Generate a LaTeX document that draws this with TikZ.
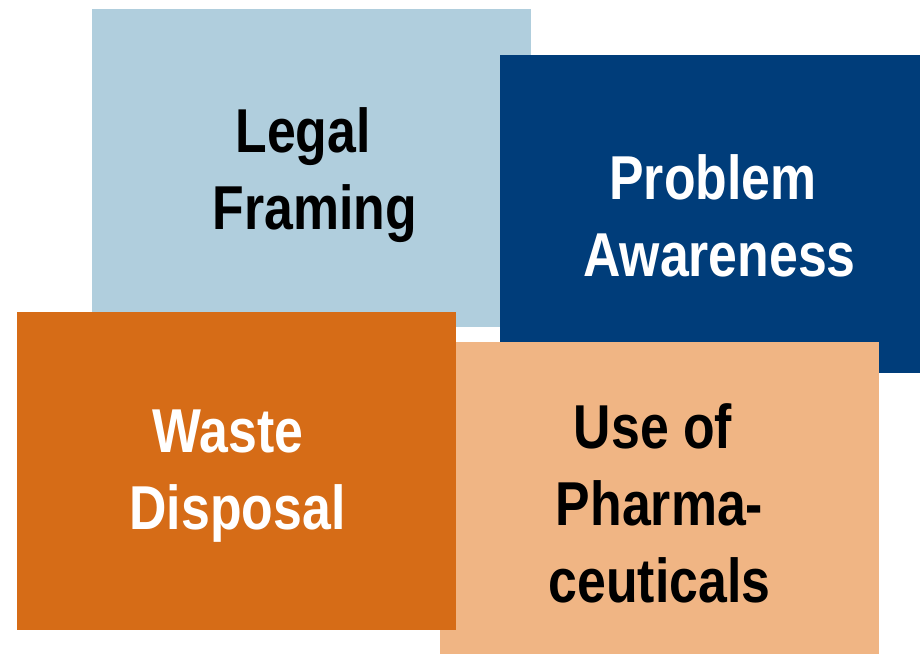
\documentclass[tikz,border=0pt]{standalone}
\usepackage{fontspec}
\newfontfamily\lab{Liberation Sans}[FakeStretch=0.835]
\definecolor{lb}{HTML}{B0CEDD}
\definecolor{db}{HTML}{003D7A}
\definecolor{orng}{HTML}{D66C17}
\definecolor{peach}{HTML}{F0B584}
\begin{document}
\begin{tikzpicture}[x=1pt,y=-1pt,
  lbl/.style={font=\lab\bfseries\fontsize{62}{77}\selectfont, align=center, inner sep=0pt, anchor=north}]
\useasboundingbox (0,0) rectangle (920,654);
\fill[lb] (92,9) rectangle (531,327);
\fill[db] (500,55) rectangle (920,373);
\fill[peach] (440,342) rectangle (879,654);
\fill[orng] (17,312) rectangle (456,630);
\node[lbl, text=black] (legal) at (315,107) {Legal\hspace*{24pt}\\Framing};
\node[lbl, text=white] (problem) at (719.5,154) {Problem\hspace*{13pt}\\Awareness};
\node[lbl, text=white] (waste) at (237.5,410) {Waste\hspace*{19pt}\\Disposal};
\node[lbl, text=black] (use) at (659.5,403) {Use of\hspace*{13pt}\\Pharma-\\ceuticals};
\end{tikzpicture}
\end{document}
